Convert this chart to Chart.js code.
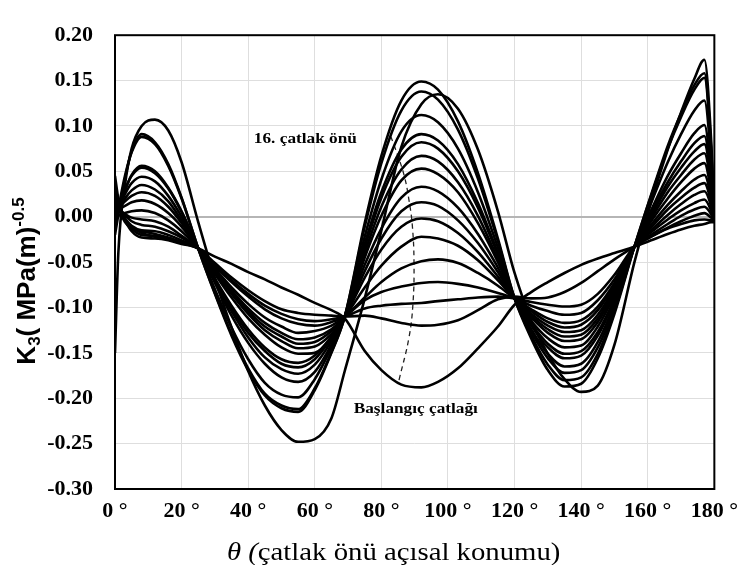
<!DOCTYPE html>
<html>
<head>
<meta charset="utf-8">
<script src="https://cdn.jsdelivr.net/npm/chart.js@4.4.1/dist/chart.umd.min.js"></script>
<style>
  html, body { margin: 0; padding: 0; background: #fff; }
  #k3-chart { display: block; }
</style>
</head>
<body>
<canvas id="k3-chart" width="747" height="565"></canvas>
<script>
/* ===== K3 ALONG THE CRACK FRONT ===== */

// angular position on the front (degrees)
const THETA = [0, 1, 3, 5, 8, 12, 16, 20, 25, 30, 35, 40, 45, 50, 55, 60, 65, 69, 75, 80, 86,
               92, 97, 103, 109, 115, 120, 125, 130, 135, 140, 145, 150, 156, 161, 166, 170, 174, 177, 179, 180];

// K3 values, initial crack first, then fronts 1..16
const initialCrack = [0.045, 0.020, -0.004, -0.012, -0.018, -0.022, -0.025, -0.029, -0.035, -0.044, -0.052, -0.061, -0.069, -0.078, -0.086, -0.095, -0.103, -0.112, -0.148, -0.169, -0.185, -0.188, -0.182, -0.167, -0.145, -0.121, -0.097, -0.083, -0.072, -0.062, -0.053, -0.046, -0.040, -0.033, -0.026, -0.019, -0.014, -0.010, -0.008, -0.006, -0.006];
const front1  = [0.030, 0.012, -0.006, -0.012, -0.016, -0.019, -0.023, -0.028, -0.035, -0.051, -0.067, -0.081, -0.093, -0.102, -0.106, -0.108, -0.109, -0.110, -0.109, -0.112, -0.117, -0.120, -0.119, -0.114, -0.103, -0.091, -0.088, -0.090, -0.089, -0.083, -0.073, -0.060, -0.047, -0.033, -0.022, -0.013, -0.008, -0.004, -0.003, -0.004, -0.005];
const front2  = [0.020, 0.012, -0.004, -0.016, -0.023, -0.024, -0.026, -0.030, -0.035, -0.053, -0.070, -0.085, -0.098, -0.107, -0.113, -0.115, -0.113, -0.110, -0.101, -0.098, -0.096, -0.095, -0.093, -0.091, -0.089, -0.088, -0.090, -0.094, -0.097, -0.099, -0.097, -0.085, -0.064, -0.033, -0.022, -0.012, -0.005, 0.001, 0.004, -0.001, -0.005];
const front3  = [0.020, 0.012, -0.002, -0.013, -0.020, -0.021, -0.024, -0.028, -0.035, -0.054, -0.072, -0.088, -0.102, -0.112, -0.118, -0.120, -0.116, -0.110, -0.092, -0.083, -0.077, -0.073, -0.072, -0.074, -0.078, -0.084, -0.090, -0.098, -0.104, -0.108, -0.106, -0.092, -0.069, -0.033, -0.020, -0.008, 0.001, 0.008, 0.011, 0.003, -0.005];
const front4  = [0.015, 0.009, -0.002, -0.010, -0.015, -0.016, -0.020, -0.026, -0.035, -0.057, -0.078, -0.096, -0.111, -0.121, -0.128, -0.126, -0.120, -0.110, -0.089, -0.072, -0.057, -0.049, -0.047, -0.051, -0.062, -0.076, -0.090, -0.102, -0.112, -0.117, -0.114, -0.099, -0.073, -0.033, -0.017, -0.003, 0.007, 0.015, 0.019, 0.007, -0.005];
const front5  = [0.015, 0.010, 0.002, -0.005, -0.009, -0.011, -0.016, -0.023, -0.035, -0.059, -0.081, -0.101, -0.117, -0.128, -0.135, -0.133, -0.124, -0.110, -0.078, -0.054, -0.033, -0.022, -0.024, -0.032, -0.048, -0.070, -0.090, -0.104, -0.116, -0.122, -0.119, -0.103, -0.075, -0.033, -0.015, 0.002, 0.014, 0.024, 0.028, 0.012, -0.005];
const front6  = [0.010, 0.008, 0.003, -0.001, -0.003, -0.005, -0.011, -0.021, -0.035, -0.060, -0.083, -0.104, -0.121, -0.132, -0.140, -0.138, -0.126, -0.110, -0.067, -0.036, -0.011, -0.002, -0.005, -0.018, -0.039, -0.066, -0.090, -0.107, -0.120, -0.127, -0.125, -0.108, -0.078, -0.033, -0.012, 0.008, 0.021, 0.032, 0.037, 0.016, -0.005];
const front7  = [0.000, 0.001, 0.004, 0.006, 0.007, 0.004, -0.004, -0.016, -0.035, -0.061, -0.085, -0.107, -0.125, -0.137, -0.145, -0.143, -0.129, -0.110, -0.060, -0.024, 0.006, 0.016, 0.012, -0.004, -0.029, -0.061, -0.090, -0.109, -0.124, -0.132, -0.130, -0.112, -0.081, -0.033, -0.009, 0.013, 0.028, 0.041, 0.046, 0.021, -0.005];
const front8  = [0.005, 0.008, 0.012, 0.016, 0.018, 0.014, 0.004, -0.011, -0.035, -0.063, -0.089, -0.112, -0.130, -0.144, -0.151, -0.150, -0.133, -0.110, -0.053, -0.013, 0.021, 0.033, 0.028, 0.010, -0.019, -0.056, -0.090, -0.111, -0.128, -0.137, -0.135, -0.116, -0.083, -0.033, -0.005, 0.020, 0.038, 0.053, 0.059, 0.027, -0.005];
const front9  = [0.005, 0.009, 0.017, 0.023, 0.027, 0.023, 0.011, -0.007, -0.035, -0.068, -0.098, -0.124, -0.144, -0.157, -0.161, -0.153, -0.132, -0.110, -0.045, 0.001, 0.040, 0.053, 0.047, 0.027, -0.007, -0.050, -0.090, -0.115, -0.134, -0.144, -0.142, -0.121, -0.086, -0.033, -0.002, 0.027, 0.046, 0.063, 0.070, 0.033, -0.005];
const front10 = [0.000, 0.007, 0.020, 0.029, 0.035, 0.030, 0.017, -0.004, -0.035, -0.069, -0.101, -0.128, -0.148, -0.162, -0.166, -0.157, -0.134, -0.110, -0.040, 0.011, 0.052, 0.067, 0.061, 0.038, 0.001, -0.047, -0.090, -0.118, -0.140, -0.151, -0.148, -0.127, -0.090, -0.033, 0.001, 0.033, 0.054, 0.072, 0.080, 0.038, -0.005];
const front11 = [0.000, 0.009, 0.025, 0.037, 0.044, 0.039, 0.023, 0.000, -0.035, -0.071, -0.104, -0.133, -0.155, -0.168, -0.173, -0.163, -0.137, -0.110, -0.034, 0.021, 0.066, 0.082, 0.075, 0.050, 0.010, -0.042, -0.090, -0.120, -0.144, -0.156, -0.153, -0.131, -0.092, -0.033, 0.004, 0.038, 0.061, 0.081, 0.089, 0.042, -0.005];
const front12 = [0.000, 0.011, 0.030, 0.045, 0.054, 0.048, 0.031, 0.005, -0.035, -0.073, -0.109, -0.139, -0.162, -0.177, -0.182, -0.171, -0.141, -0.110, -0.030, 0.027, 0.074, 0.091, 0.084, 0.058, 0.015, -0.040, -0.090, -0.124, -0.151, -0.165, -0.162, -0.138, -0.096, -0.033, 0.007, 0.045, 0.070, 0.092, 0.101, 0.048, -0.005];
const front13 = [-0.005, 0.007, 0.029, 0.046, 0.056, 0.050, 0.032, 0.006, -0.035, -0.080, -0.122, -0.157, -0.183, -0.196, -0.199, -0.179, -0.144, -0.110, -0.022, 0.041, 0.094, 0.112, 0.104, 0.075, 0.027, -0.034, -0.090, -0.127, -0.156, -0.172, -0.169, -0.144, -0.100, -0.033, 0.015, 0.060, 0.091, 0.117, 0.128, 0.062, -0.005];
const front14 = [-0.010, 0.009, 0.045, 0.071, 0.088, 0.080, 0.056, 0.020, -0.035, -0.084, -0.129, -0.167, -0.195, -0.208, -0.212, -0.189, -0.149, -0.110, -0.011, 0.059, 0.117, 0.138, 0.129, 0.096, 0.042, -0.027, -0.090, -0.131, -0.163, -0.180, -0.177, -0.151, -0.104, -0.033, 0.023, 0.075, 0.110, 0.140, 0.153, 0.075, -0.004];
const front15 = [-0.020, 0.002, 0.042, 0.072, 0.091, 0.082, 0.058, 0.021, -0.035, -0.085, -0.131, -0.169, -0.197, -0.211, -0.215, -0.191, -0.150, -0.110, -0.007, 0.067, 0.128, 0.149, 0.140, 0.105, 0.048, -0.024, -0.090, -0.134, -0.169, -0.187, -0.184, -0.156, -0.107, -0.033, 0.024, 0.078, 0.114, 0.145, 0.158, 0.078, -0.003];
const front16 = [-0.150, -0.040, 0.035, 0.075, 0.100, 0.107, 0.095, 0.060, -0.006, -0.068, -0.122, -0.170, -0.208, -0.235, -0.248, -0.245, -0.222, -0.170, -0.090, -0.015, 0.077, 0.124, 0.135, 0.119, 0.074, 0.006, -0.062, -0.114, -0.151, -0.179, -0.193, -0.186, -0.141, -0.050, 0.016, 0.074, 0.115, 0.152, 0.173, 0.087, 0.000];

const FRONTS = [initialCrack, front1, front2, front3, front4, front5, front6, front7, front8,
                front9, front10, front11, front12, front13, front14, front15, front16];

// dashed guide from the initial crack trough up to the 16th front
const GUIDE_THETA = [85.3, 88.3, 89.5, 89.8, 89.3, 88.3, 86.8, 83.8, 82.3];
const GUIDE_K3    = [-0.180, -0.133, -0.095, -0.050, -0.010, 0.018, 0.046, 0.079, 0.093];

// in-plot labels: [text, theta, K3]
const LABEL_LAST    = ['16. çatlak önü', 41.7, 0.087];
const LABEL_INITIAL = ['Başlangıç çatlağı', 71.7, -0.211];

const SERIF = "'Liberation Serif', 'Times New Roman', serif";
const SANS  = "'Liberation Sans', Arial, sans-serif";
const STRETCH = 1.15;

const isZero = v => Math.abs(v) < 1e-9;

// text drawn a little wider than the font, like the rest of the sheet
function stretchedText(ctx, parts, x, y, align) {
  ctx.save();
  let total = 0;
  parts.forEach(p => { ctx.font = p.font; total += ctx.measureText(p.text).width; });
  let start = align === 'center' ? -total / 2 : 0;
  ctx.translate(x, y);
  ctx.scale(STRETCH, 1);
  ctx.fillStyle = '#000';
  ctx.textBaseline = 'alphabetic';
  ctx.textAlign = 'left';
  parts.forEach(p => {
    ctx.font = p.font;
    ctx.fillText(p.text, start, p.dy || 0);
    start += ctx.measureText(p.text).width;
  });
  ctx.restore();
}

const decorPlugin = {
  id: 'decor',
  afterDatasetsDraw(chart) {
    const { ctx, chartArea: a } = chart;
    ctx.save();
    ctx.strokeStyle = '#000';
    ctx.lineWidth = 2;
    ctx.strokeRect(a.left, a.top, a.right - a.left, a.bottom - a.top);
    ctx.restore();
  },
  afterDraw(chart) {
    const { ctx, scales: { x, y } } = chart;

    // labels inside the plot
    [LABEL_LAST, LABEL_INITIAL].forEach(([text, t, k]) => {
      stretchedText(ctx, [{ text, font: 'bold 15px ' + SERIF }],
        x.getPixelForValue(t), y.getPixelForValue(k) + 5, 'left');
    });

    // x axis title
    stretchedText(ctx, [
      { text: 'θ (', font: 'italic 25px ' + SERIF },
      { text: 'çatlak önü açısal konumu)', font: '25px ' + SERIF },
    ], (x.left + x.right) / 2 - 21, 560, 'center');

    // y axis title, rotated, with subscript and superscript
    const parts = [
      { text: 'K', font: 'bold 26px ' + SANS, dy: 0 },
      { text: '3', font: 'bold 17px ' + SANS, dy: 5 },
      { text: '( MPa(m)', font: 'bold 26px ' + SANS, dy: 0 },
      { text: '-0.5', font: 'bold 17px ' + SANS, dy: -11 },
    ];
    ctx.save();
    let total = 0;
    parts.forEach(p => { ctx.font = p.font; total += ctx.measureText(p.text).width; });
    ctx.translate(35, 281);
    ctx.rotate(-Math.PI / 2);
    ctx.fillStyle = '#000';
    ctx.textBaseline = 'alphabetic';
    let pos = -total / 2;
    parts.forEach(p => {
      ctx.font = p.font;
      ctx.fillText(p.text, pos, p.dy);
      pos += ctx.measureText(p.text).width;
    });
    ctx.restore();
  },
};

const datasets = FRONTS.map((vals, i) => ({
  label: i === 0 ? 'Başlangıç çatlağı' : i + '. çatlak önü',
  data: THETA.map((t, j) => ({ x: t, y: vals[j] })),
  borderColor: '#000',
  borderWidth: 2.6,
  pointRadius: 0,
  fill: false,
  cubicInterpolationMode: 'monotone',
}));

datasets.push({
  label: 'guide',
  data: GUIDE_THETA.map((t, j) => ({ x: t, y: GUIDE_K3[j] })),
  borderColor: '#222',
  borderWidth: 1.3,
  borderDash: [5, 4],
  pointRadius: 0,
  fill: false,
  tension: 0.4,
});

const tickFont = { family: SERIF, size: 22, weight: 'bold' };

new Chart(document.getElementById('k3-chart'), {
  type: 'line',
  data: { datasets },
  plugins: [decorPlugin],
  options: {
    responsive: false,
    animation: false,
    devicePixelRatio: 1,
    layout: { padding: { top: 13, right: 27, left: 0, bottom: 0 } },
    plugins: { legend: { display: false }, tooltip: { enabled: false } },
    scales: {
      x: {
        type: 'linear',
        min: 0,
        max: 180,
        ticks: {
          stepSize: 20,
          autoSkip: false,
          maxRotation: 0,
          padding: 9,
          color: '#000',
          font: tickFont,
          callback: v => v + ' °',
        },
        grid: { color: '#dedede', lineWidth: 1, drawTicks: false },
        border: { display: false },
        afterFit: s => { s.height = 76; },
      },
      y: {
        min: -0.30,
        max: 0.20,
        ticks: {
          stepSize: 0.05,
          padding: 22,
          color: '#000',
          font: tickFont,
          callback: v => isZero(v) ? '0.00' : v.toFixed(2),
        },
        grid: {
          color: c => isZero(c.tick.value) ? '#b5b5b5' : '#dedede',
          lineWidth: c => isZero(c.tick.value) ? 2 : 1,
          drawTicks: false,
        },
        border: { display: false },
        afterFit: s => { s.width = 115; },
      },
    },
  },
});
</script>
</body>
</html>
